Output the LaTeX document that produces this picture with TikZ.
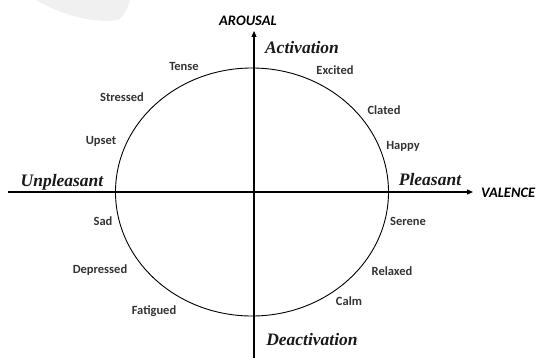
\documentclass[tikz,border=0pt]{standalone}
\usepackage{fontspec}
\setsansfont{Carlito}
\newfontfamily\polefont{Liberation Serif}
\usepackage{tikz}
\usetikzlibrary{arrows.meta}

\begin{document}
\begin{tikzpicture}[x=1pt, y=-1pt,
  mood/.style={font=\sffamily\bfseries\fontsize{12.5}{14}\selectfont, text=black!80, inner sep=0pt},
  pole/.style={font=\polefont\bfseries\itshape\fontsize{17.5}{19}\selectfont, text=black!90, inner sep=0pt},
  axisname/.style={font=\sffamily\bfseries\itshape\fontsize{14.5}{16}\selectfont, inner sep=0pt},
  axisline/.style={line width=1.1pt, -{Triangle[length=6pt,width=5pt]}}]
  \useasboundingbox (0,0) rectangle (537,358);
  \fill[black!6] (36,0) .. controls (60,14) and (92,24) .. (118,20) .. controls (124,16) and (128,8) .. (130,0) -- cycle;

  \coordinate (vbot) at (254,358);
  \coordinate (vtop) at (254,31);
  \coordinate (hleft) at (8,192);
  \coordinate (hright) at (473,192);
  \draw[axisline] (hleft) -- (hright);
  \draw[axisline] (vbot) -- (vtop);
  \draw[line width=0.9pt] (252,192) ellipse [x radius=136.5, y radius=124];

  \node[axisname] (arousal) at (248,21) {AROUSAL};
  \node[axisname, anchor=west] (valence) at (481,193) {VALENCE};
  \node[pole] (activation) at (302,48) {Activation};
  \node[pole] (deactivation) at (312,340) {Deactivation};
  \node[pole] (pleasant) at (430,180) {Pleasant};
  \node[pole] (unpleasant) at (62,182) {Unpleasant};

  \node[mood] (excited) at (335,70) {Excited};
  \node[mood] (clated) at (384,110) {Clated};
  \node[mood] (happy) at (403,146) {Happy};
  \node[mood] (serene) at (408,221) {Serene};
  \node[mood] (relaxed) at (392,271) {Relaxed};
  \node[mood] (calm) at (349,301) {Calm};
  \node[mood] (tense) at (184,66) {Tense};
  \node[mood] (stressed) at (122,97) {Stressed};
  \node[mood] (upset) at (101,141) {Upset};
  \node[mood] (sad) at (103,221) {Sad};
  \node[mood] (depressed) at (100,270) {Depressed};
  \node[mood] (fatigued) at (154,311) {Fatigued};
\end{tikzpicture}
\end{document}
